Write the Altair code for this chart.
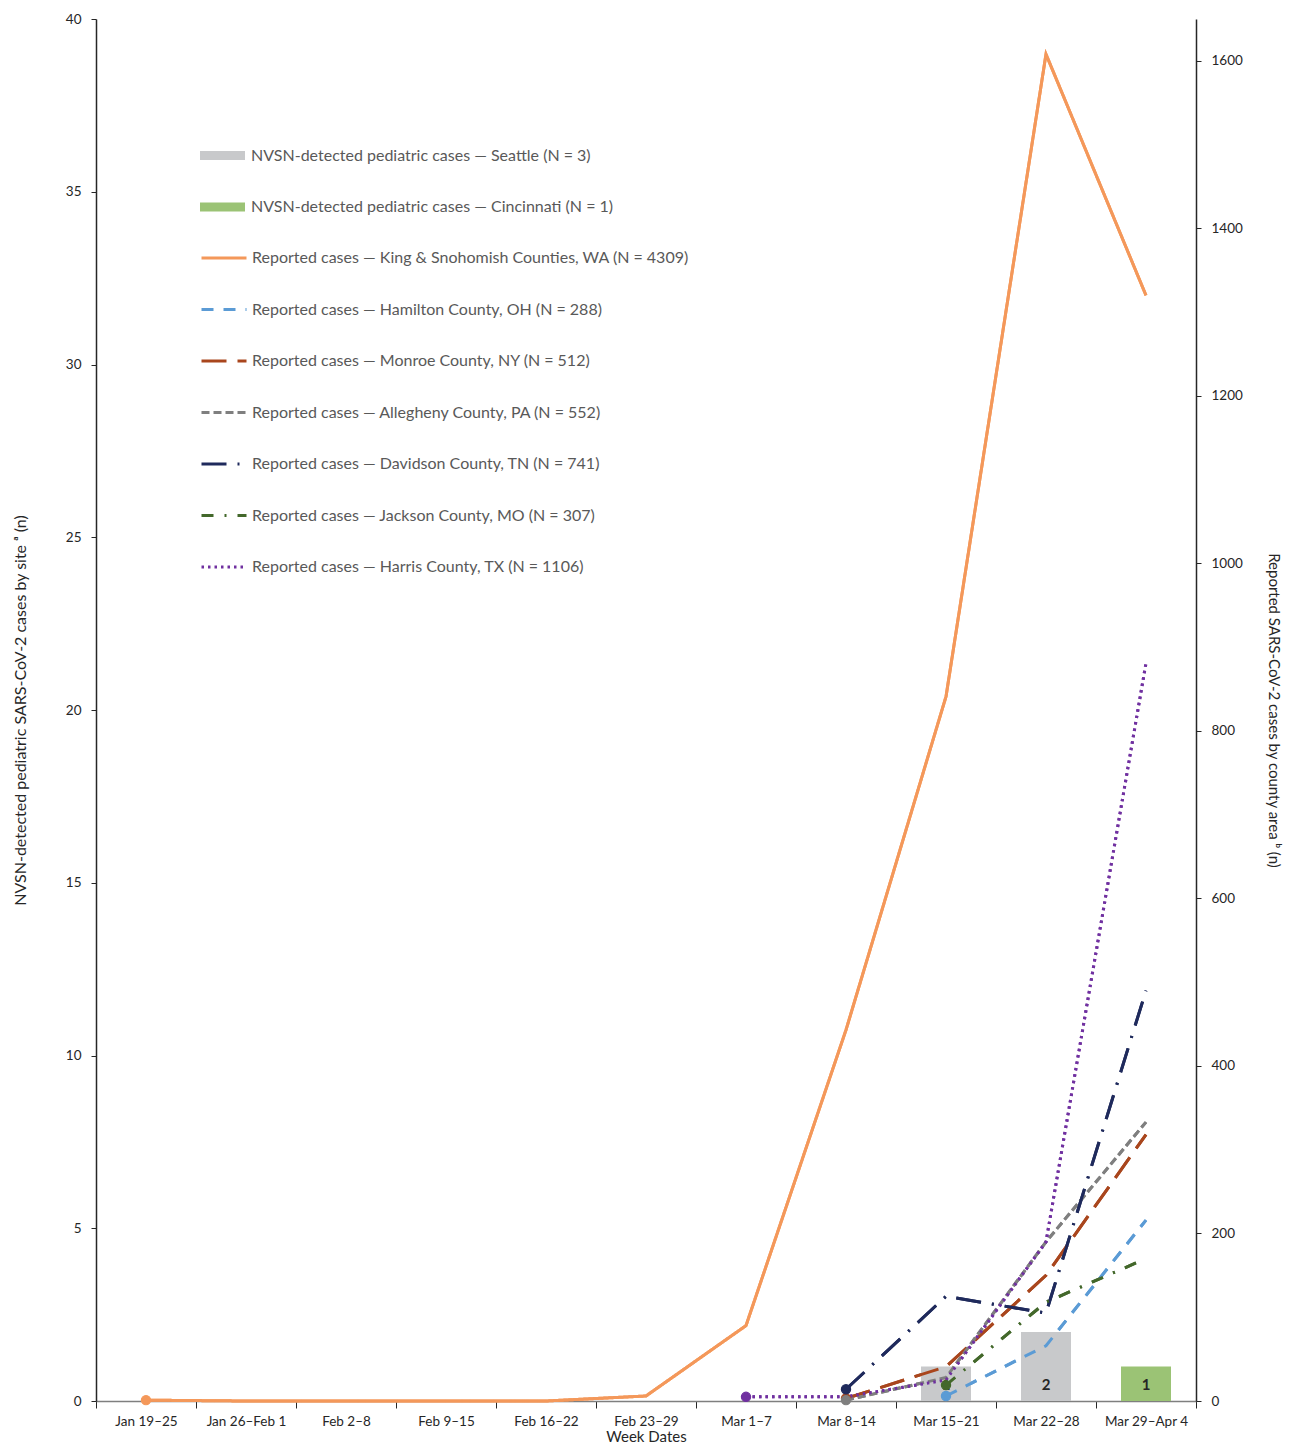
import altair as alt
import pandas as pd

weeks = ["Jan 19–25", "Jan 26–Feb 1", "Feb 2–8", "Feb 9–15", "Feb 16–22", "Feb 23–29",
         "Mar 1–7", "Mar 8–14", "Mar 15–21", "Mar 22–28", "Mar 29–Apr 4"]

# NVSN-detected pediatric cases (left axis)
bar_sites = ["NVSN-detected pediatric cases — Seattle (N = 3)",
             "NVSN-detected pediatric cases — Cincinnati (N = 1)"]
seattle = [None, None, None, None, None, None, None, None, 1, 2, None]
cincinnati = [None, None, None, None, None, None, None, None, None, None, 1]
bar_colors = ["#C8C9CB", "#9BC375"]

# Reported cases by county (right axis)
counties = ["Reported cases — King & Snohomish Counties, WA (N = 4309)",
            "Reported cases — Hamilton County, OH (N = 288)",
            "Reported cases — Monroe County, NY (N = 512)",
            "Reported cases — Allegheny County, PA (N = 552)",
            "Reported cases — Davidson County, TN (N = 741)",
            "Reported cases — Jackson County, MO (N = 307)",
            "Reported cases — Harris County, TX (N = 1106)"]
king = [1, 0, 0, 0, 0, 6, 90, 443, 841, 1608, 1320]
hamilton = [None, None, None, None, None, None, None, None, 6, 66, 216]
monroe = [None, None, None, None, None, None, None, 3, 41, 150, 318]
allegheny = [None, None, None, None, None, None, None, 1, 28, 190, 333]
davidson = [None, None, None, None, None, None, None, 14, 125, 105, 490]
jackson = [None, None, None, None, None, None, None, None, 19, 118, 170]
harris = [None, None, None, None, None, None, 5, 5, 25, 190, 881]
line_colors = ["#F4985A", "#5B9BD5", "#A9461D", "#7F7F7F", "#1F2A5C", "#43682B", "#7030A0"]
line_dashes = [[1, 0], [12, 10], [25, 11], [8, 4], [25, 11, 2, 11], [12, 11, 2, 11], [2.5, 4]]

bar_rows = []
for site, vals in zip(bar_sites, [seattle, cincinnati]):
    for w, v in zip(weeks, vals):
        if v is not None:
            bar_rows.append({"week": w, "site": site, "n": v})
bars_df = pd.DataFrame(bar_rows)

line_rows = []
for ci, (county, vals) in enumerate(zip(counties, [king, hamilton, monroe, allegheny, davidson, jackson, harris])):
    first = True
    for w, v in zip(weeks, vals):
        if v is not None:
            line_rows.append({"week": w, "county": county, "cases": v, "first": first, "order": ci})
            first = False
lines_df = pd.DataFrame(line_rows)
points_df = lines_df[lines_df["first"]]

W, H = 1100, 1382
YL_MAX = 40
YR_MAX = 1650
FONT = "Lato"
TXT = "#262626"

x_scale = alt.Scale(domain=weeks, paddingInner=0, paddingOuter=0)
x_axis = alt.Axis(title="Week Dates", labelAngle=0, labelAlign="center", tickBand="extent",
                  tickSize=7, labelFontSize=13.5, labelColor=TXT, labelFont=FONT,
                  labelPadding=6, titleFont=FONT, titleFontSize=15,
                  titleFontWeight="normal", titleColor=TXT, titlePadding=2,
                  domainColor="#7F7F7F", tickColor=TXT, domainWidth=1.5)
x_enc = alt.X("week:N", sort=weeks, scale=x_scale, axis=x_axis)
x_line = alt.X("week:N", sort=weeks, scale=x_scale, bandPosition=0.5, axis=x_axis)

yr_scale = alt.Scale(domain=[0, YR_MAX], nice=False, zero=True)

legend_lines = alt.Legend(orient="none", legendX=104, legendY=215, title=None, symbolType="stroke",
                          symbolSize=2025, symbolStrokeWidth=3, labelFont=FONT, labelFontSize=16,
                          labelColor="#595959", labelOffset=4, rowPadding=19.5, padding=0,
                          labelLimit=700, direction="vertical")
legend_bars = alt.Legend(orient="none", legendX=104, legendY=114, title=None,
                         symbolType="M-1,-0.2H1V0.2H-1Z", symbolSize=2025, symbolStrokeWidth=0,
                         labelFont=FONT, labelFontSize=16, labelColor="#595959", labelOffset=6,
                         rowPadding=20.6, padding=0, labelLimit=700, direction="vertical")

stroke_scale = alt.Scale(domain=counties, range=line_colors)
dash_scale = alt.Scale(domain=counties, range=line_dashes)

right_axis = alt.Axis(orient="right", title="Reported SARS-CoV-2 cases by county area ᵇ (n)",
                      values=list(range(0, 1601, 200)), format="d", grid=False, tickSize=5,
                      labelFontSize=13.5, labelColor=TXT, labelFont=FONT, labelPadding=10,
                      titleFont=FONT, titleFontSize=15, titleFontWeight="normal",
                      titleColor=TXT, titlePadding=23, domainColor=TXT,
                      tickColor=TXT, domainWidth=1.5)


def line_layer(legend, axis):
    return alt.Chart(lines_df).mark_line(strokeWidth=3).encode(
        x=x_line,
        y=alt.Y("cases:Q", scale=yr_scale, axis=axis),
        stroke=alt.Stroke("county:N", scale=stroke_scale, legend=legend),
        strokeDash=alt.StrokeDash("county:N", scale=dash_scale, legend=legend),
        detail="order:O",
        order="order:O",
    )


lines_under = line_layer(legend_lines, right_axis)

bars = alt.Chart(bars_df).mark_bar(width={"band": 0.5}).encode(
    x=x_enc,
    y=alt.Y("n:Q", scale=alt.Scale(domain=[0, YL_MAX], nice=False),
            axis=alt.Axis(orient="left", title="NVSN-detected pediatric SARS-CoV-2 cases by site ᵃ (n)",
                          values=list(range(0, 41, 5)), grid=False, tickSize=5,
                          labelFontSize=13.5, labelColor=TXT, labelFont=FONT, labelPadding=10,
                          titleFont=FONT, titleFontSize=16, titleFontWeight="normal",
                          titleColor=TXT, titlePadding=37, domainColor=TXT,
                          tickColor=TXT, domainWidth=1.5)),
    fill=alt.Fill("site:N", scale=alt.Scale(domain=bar_sites, range=bar_colors), legend=legend_bars),
)

labels = alt.Chart(bars_df).mark_text(fontWeight="bold", fontSize=15, font=FONT, color=TXT,
                                      baseline="middle", dy=-16).encode(
    x=x_line,
    y=alt.value(H),
    text="n:Q",
)

lines_top = line_layer(None, None)

points = alt.Chart(points_df).mark_point(filled=True, size=85, opacity=1, strokeWidth=1.2).encode(
    x=x_line,
    y=alt.Y("cases:Q", scale=yr_scale, axis=None),
    fill=alt.Fill("county:N", scale=alt.Scale(domain=counties, range=line_colors), legend=None),
    stroke=alt.Stroke("county:N", scale=stroke_scale, legend=None),
)

left_group = alt.layer(bars, labels)
right_group = alt.layer(lines_top, points)

chart = alt.layer(lines_under, left_group, right_group).resolve_scale(
    y="independent", fill="independent"
).properties(
    width=W, height=H,
    autosize=alt.AutoSizeParams(type="none"),
    padding={"left": 88, "top": 11, "right": 87, "bottom": 44},
).configure_view(stroke=None)

chart.save("out.html", embed_options={"renderer": "svg", "actions": False})
